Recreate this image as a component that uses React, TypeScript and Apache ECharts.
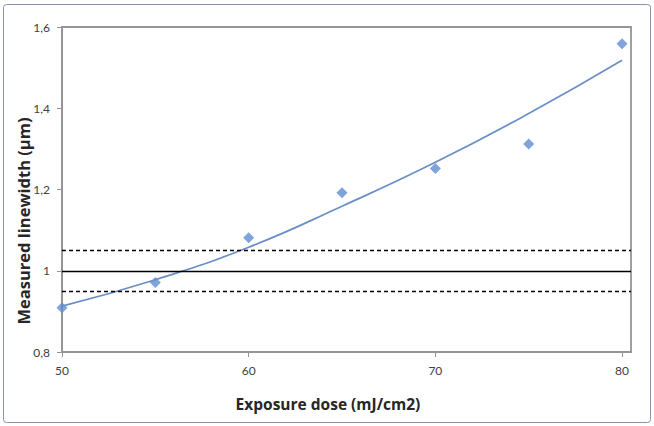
import React, { useEffect, useRef } from "react";
import * as echarts from "echarts";

const doses = [50, 55, 60, 65, 70, 75, 80];
const measured = [0.909, 0.971, 1.081, 1.192, 1.252, 1.312, 1.559];
const trend = [0.913, 0.978, 1.058, 1.159, 1.267, 1.387, 1.518];
const xTicks = [50, 60, 70, 80];
const yTicks = [0.8, 1.0, 1.2, 1.4, 1.6];
const targetValue = 1;
const toleranceValues = [0.95, 1.05];
const xTitle = "Exposure dose (mJ/cm2)";
const yTitle = "Measured linewidth (µm)";

const FONT = "Lato, 'Open Sans', sans-serif";
const TITLE_FONT = "'Open Sans', Lato, sans-serif";

export default function App() {
  const ref = useRef<HTMLDivElement>(null);
  useEffect(() => {
    document.body.style.margin = "0";
    const chart = echarts.init(ref.current!, null, { renderer: "svg" });
    const axisGray = "#959595";
    const option: any = {
      animation: false,
      backgroundColor: "#ffffff",
      grid: {
        left: 62,
        right: 23,
        top: 27,
        bottom: 74,
        show: true,
        borderColor: axisGray,
        borderWidth: 1.8,
        backgroundColor: "transparent",
      },
      xAxis: {
        type: "value",
        min: 50,
        max: 80.48,
        interval: 10,
        splitLine: { show: false },
        axisLine: { show: true, lineStyle: { color: axisGray, width: 1.8 } },
        axisTick: { show: true, length: 5, lineStyle: { color: axisGray }, customValues: xTicks },
        axisLabel: {
          customValues: xTicks,
          margin: 12,
          color: "#404040",
          fontFamily: FONT,
          fontSize: 12,
          formatter: (v: number) => (v > 80 ? "" : String(v)),
        },
      },
      yAxis: {
        type: "value",
        min: 0.8,
        max: 1.6,
        interval: 0.2,
        splitLine: { show: false },
        axisLine: { show: true, lineStyle: { color: axisGray, width: 1.8 } },
        axisTick: { show: true, length: 5, lineStyle: { color: axisGray }, customValues: yTicks },
        axisLabel: {
          margin: 12,
          color: "#404040",
          fontFamily: FONT,
          fontSize: 12,
          formatter: (v: number) => String(+v.toFixed(1)).replace(".", ","),
        },
      },
      series: [
        {
          type: "line",
          data: [],
          markLine: {
            silent: true,
            symbol: "none",
            label: { show: false },
            data: [
              { yAxis: targetValue, lineStyle: { color: "#000", width: 1.3, type: "solid" } },
              ...toleranceValues.map((v) => ({
                yAxis: v,
                lineStyle: { color: "#000", width: 1.3, type: [4, 3] },
              })),
            ],
          },
        },
        {
          type: "scatter",
          symbol: "diamond",
          symbolSize: 11,
          itemStyle: { color: "#5f8dcf" },
          data: doses.map((d, i) => [d, measured[i]]),
          z: 3,
        },
        {
          type: "line",
          smooth: true,
          showSymbol: false,
          symbol: "none",
          lineStyle: { color: "#6a8fc6", width: 1.7 },
          data: doses.map((d, i) => [d, trend[i]]),
          z: 4,
        },
      ],
      graphic: [
        {
          type: "rect",
          shape: { x: 3.5, y: 4.5, width: 647, height: 418, r: 3 },
          style: { fill: "none", stroke: "#8595ad", lineWidth: 1 },
          silent: true,
        },
        {
          type: "text",
          x: 328,
          y: 404,
          style: {
            text: xTitle,
            fontFamily: TITLE_FONT,
            fontWeight: "bold",
            fontSize: 15.5,
            fill: "#262626",
            align: "center",
            verticalAlign: "middle",
          },
        },
        {
          type: "text",
          x: 23,
          y: 221,
          rotation: Math.PI / 2,
          style: {
            text: yTitle,
            fontFamily: TITLE_FONT,
            fontWeight: "bold",
            fontSize: 16.5,
            fill: "#262626",
            align: "center",
            verticalAlign: "middle",
          },
        },
      ],
    };
    chart.setOption(option);
    return () => chart.dispose();
  }, []);
  return <div ref={ref} style={{ width: 654, height: 426 }} />;
}
